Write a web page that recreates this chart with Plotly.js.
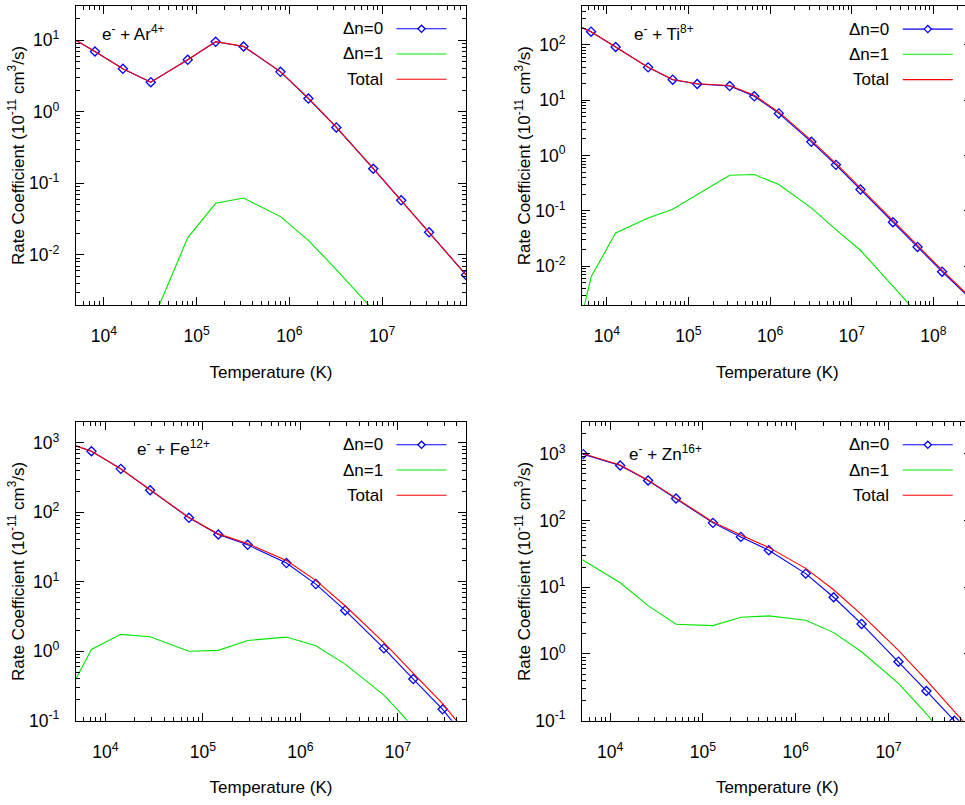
<!DOCTYPE html>
<html><head><meta charset="utf-8">
<script src="https://cdn.plot.ly/plotly-3.0.1.min.js"></script>
<style>html,body{margin:0;padding:0;overflow:hidden;background:#fff}#plot{width:975px;height:805px}</style>
</head><body><div id="plot"></div>
<script>
// ---------- data ----------
const T_ar   = [3.2e3, 8e3, 1.6e4, 3.2e4, 8e4, 1.6e5, 3.2e5, 8e5, 1.6e6, 3.2e6, 8e6, 1.6e7, 3.2e7, 8e7];
const ar_dn0 = [14, 6.95, 3.98, 2.59, 5.32, 9.48, 8.16, 3.61, 1.53, 0.604, 0.160, 0.058, 0.0207, 0.00526];
const ar_dn1 = [null, null, null, 0.00105, 0.0173, 0.0526, 0.0624, 0.0343, 0.016, 0.00623, 0.0017, null, null, null];
const ar_tot = [14, 6.95, 3.98, 2.59, 5.34, 9.53, 8.22, 3.64, 1.55, 0.61, 0.162, 0.058, 0.0207, 0.00526];

const T_ti   = [3.2e3, 6.4e3, 1.28e4, 3.2e4, 6.4e4, 1.28e5, 3.2e5, 6.4e5, 1.28e6, 3.2e6, 6.4e6, 1.28e7, 3.2e7, 6.4e7, 1.28e8, 3.2e8];
const ti_dn0 = [275, 174, 92, 39.4, 23.6, 19.7, 18.1, 11.8, 5.80, 1.78, 0.682, 0.244, 0.0626, 0.0224, 0.0080, 0.0022];
const ti_dn1 = [0.00008, 0.0064, 0.0401, 0.075, 0.1076, 0.198, 0.443, 0.456, 0.30, 0.114, 0.046, 0.0195, 0.00434, 0.0014, null, null];
const ti_tot = [275, 174, 92, 39.5, 23.7, 19.9, 18.5, 12.3, 6.1, 1.89, 0.728, 0.264, 0.067, 0.0238, 0.0085, 0.0023];

const T_fe   = [2.88e3, 7.2e3, 1.44e4, 2.88e4, 7.2e4, 1.44e5, 2.88e5, 7.2e5, 1.44e6, 2.88e6, 7.2e6, 1.44e7, 2.88e7, 7.2e7];
const fe_dn0 = [1190, 759, 423, 208, 83.4, 48, 34.1, 18.6, 9.27, 3.87, 1.10, 0.398, 0.146, 0.029];
const fe_dn1 = [0.093, 1.06, 1.75, 1.62, 1.00, 1.03, 1.43, 1.60, 1.20, 0.653, 0.234, 0.082, 0.03, 0.007];
const fe_tot = [1190, 760, 425, 210, 84.4, 49, 35.5, 20.2, 10.5, 4.52, 1.33, 0.48, 0.176, 0.036];

const T_zn   = [2.56e3, 5.12e3, 1.28e4, 2.56e4, 5.12e4, 1.28e5, 2.56e5, 5.12e5, 1.28e6, 2.56e6, 5.12e6, 1.28e7, 2.56e7, 5.12e7, 1.28e8];
const zn_dn0 = [1320, 989, 668, 398, 214, 92.3, 56.9, 35.9, 16.0, 7.08, 2.82, 0.767, 0.279, 0.1, 0.025];
const zn_dn1 = [38, 25.4, 11.7, 5.31, 2.79, 2.66, 3.55, 3.72, 3.20, 2.09, 1.08, 0.363, 0.127, 0.04, 0.008];
const zn_tot = [1358, 1014, 680, 403, 217, 95, 60.5, 39.6, 19.2, 9.17, 3.9, 1.13, 0.406, 0.14, 0.033];

const seriesNames = ['\u0394n=0', '\u0394n=1', 'Total'];
const ionLabels = ['e<sup>-</sup> + Ar<sup>4+</sup>', 'e<sup>-</sup> + Ti<sup>8+</sup>', 'e<sup>-</sup> + Fe<sup>12+</sup>', 'e<sup>-</sup> + Zn<sup>16+</sup>'];
const xTitle = 'Temperature (K)';
const yTitle = 'Rate Coefficient (10<sup>-11</sup> cm<sup>3</sup>/s)';
const xRanges = [[5e3, 8e7], [5e3, 3e8], [5e3, 5e7], [5e3, 8e7]];
const yRanges = [[0.002, 30], [0.002, 500], [0.1, 2000], [0.1, 3000]];
const xTicks = [[1e4, 1e5, 1e6, 1e7], [1e4, 1e5, 1e6, 1e7, 1e8], [1e4, 1e5, 1e6, 1e7], [1e4, 1e5, 1e6, 1e7]];
const yTicks = [[0.01, 0.1, 1, 10], [0.01, 0.1, 1, 10, 100], [0.1, 1, 10, 100, 1000], [0.1, 1, 10, 100, 1000]];

// ---------- layout geometry ----------
const W = 975, H = 805;
const FONT = '"Liberation Sans", Arial, Helvetica, sans-serif';
const px = x => x / W, py = y => 1 - y / H;
const boxes = [[76, 466, 6, 305], [582.3, 972.3, 6.3, 305], [76, 466, 422, 720.7], [582.3, 972.3, 422, 720.7]];
const labelPos = [[100, 33], [631.5, 33], [135, 448], [626.5, 453]];
const COLORS = ['#0000ff', '#00e600', '#ff0000'];

const panels = [
  {T: T_ar, s: [ar_dn0, ar_dn1, ar_tot]},
  {T: T_ti, s: [ti_dn0, ti_dn1, ti_tot]},
  {T: T_fe, s: [fe_dn0, fe_dn1, fe_tot]},
  {T: T_zn, s: [zn_dn0, zn_dn1, zn_tot]}
];

function minorVals(lo, hi) {
  const out = [];
  for (let d = Math.floor(Math.log10(lo)); d <= Math.ceil(Math.log10(hi)); d++)
    for (let k = 2; k <= 9; k++) { const v = k * Math.pow(10, d); if (v > lo && v < hi) out.push(v); }
  return out;
}
const supLabel = v => '10<sup>' + Math.round(Math.log10(v)) + '</sup>';

const traces = [];
const layout = {
  width: W, height: H, margin: {l: 0, r: 0, t: 0, b: 0},
  paper_bgcolor: '#fff', plot_bgcolor: '#fff', showlegend: false,
  font: {family: FONT, size: 17, color: '#000'},
  annotations: [], shapes: []
};

panels.forEach((p, i) => {
  const n = i === 0 ? '' : String(i + 1);
  const [x0, x1, y0, y1] = boxes[i];
  p.s.forEach((ys, j) => {
    const t = {
      x: p.T, y: ys, xaxis: 'x' + n, yaxis: 'y' + n, name: seriesNames[j],
      mode: j === 0 ? 'lines+markers' : 'lines',
      line: {color: COLORS[j], width: 1.1}, hoverinfo: 'x+y+name'
    };
    if (j === 0) t.marker = {symbol: 'diamond-open', size: 7, color: COLORS[0], line: {width: 1.3, color: COLORS[0]}};
    traces.push(t);
  });
  const common = {
    type: 'log', showline: true, linecolor: '#000', linewidth: 1.2, mirror: 'allticks',
    ticks: 'inside', ticklen: 8, tickwidth: 1, tickcolor: '#000', tickmode: 'array',
    showgrid: false, zeroline: false, tickfont: {family: FONT, size: 17.5, color: '#000'}
  };
  layout['xaxis' + n] = Object.assign({}, common, {
    domain: [px(x0), px(x1)], anchor: 'y' + n,
    range: xRanges[i].map(Math.log10),
    tickvals: xTicks[i], ticktext: xTicks[i].map(supLabel), ticklabelstandoff: 15,
    minor: {tickmode: 'array', tickvals: minorVals(...xRanges[i]), ticks: 'inside', ticklen: 4, tickwidth: 1, tickcolor: '#000', showgrid: false},
    title: {text: xTitle, font: {family: FONT, size: 17, color: '#000'}, standoff: 20}
  });
  layout['yaxis' + n] = Object.assign({}, common, {
    domain: [py(y1), py(y0)], anchor: 'x' + n,
    range: yRanges[i].map(Math.log10),
    tickvals: yTicks[i], ticktext: yTicks[i].map(supLabel), ticklabelstandoff: 12,
    minor: {tickmode: 'array', tickvals: minorVals(...yRanges[i]), ticks: 'inside', ticklen: 4, tickwidth: 1, tickcolor: '#000', showgrid: false},
    title: {text: yTitle, font: {family: FONT, size: 17, color: '#000'}, standoff: 0}
  });
  // ion label
  layout.annotations.push({xref: 'paper', yref: 'paper', x: px(labelPos[i][0]), y: py(labelPos[i][1]),
    xanchor: 'left', yanchor: 'middle', showarrow: false, text: ionLabels[i], font: {family: FONT, size: 17, color: '#000'}});
  // gnuplot-style key: text right-justified, sample line to the right
  const rows = [22.8, 48, 73.3];
  rows.forEach((dy, j) => {
    const yy = y0 + dy;
    layout.annotations.push({xref: 'paper', yref: 'paper', x: px(x1 - 81), y: py(yy),
      xanchor: 'right', yanchor: 'middle', showarrow: false, text: seriesNames[j], font: {family: FONT, size: 17, color: '#000'}});
    layout.shapes.push({type: 'line', xref: 'paper', yref: 'paper', x0: px(x1 - 69.5), x1: px(x1 - 19.5), y0: py(yy), y1: py(yy),
      line: {color: COLORS[j], width: 1.1}});
    if (j === 0) {
      const cx = x1 - 44.5, r = 3.6;
      layout.shapes.push({type: 'path', xref: 'paper', yref: 'paper',
        path: `M ${px(cx - r)} ${py(yy)} L ${px(cx)} ${py(yy - r)} L ${px(cx + r)} ${py(yy)} L ${px(cx)} ${py(yy + r)} Z`,
        fillcolor: '#fff', line: {color: COLORS[0], width: 1.3}});
    }
  });
});

Plotly.newPlot('plot', traces, layout, {staticPlot: true, displayModeBar: false});
</script></body></html>
